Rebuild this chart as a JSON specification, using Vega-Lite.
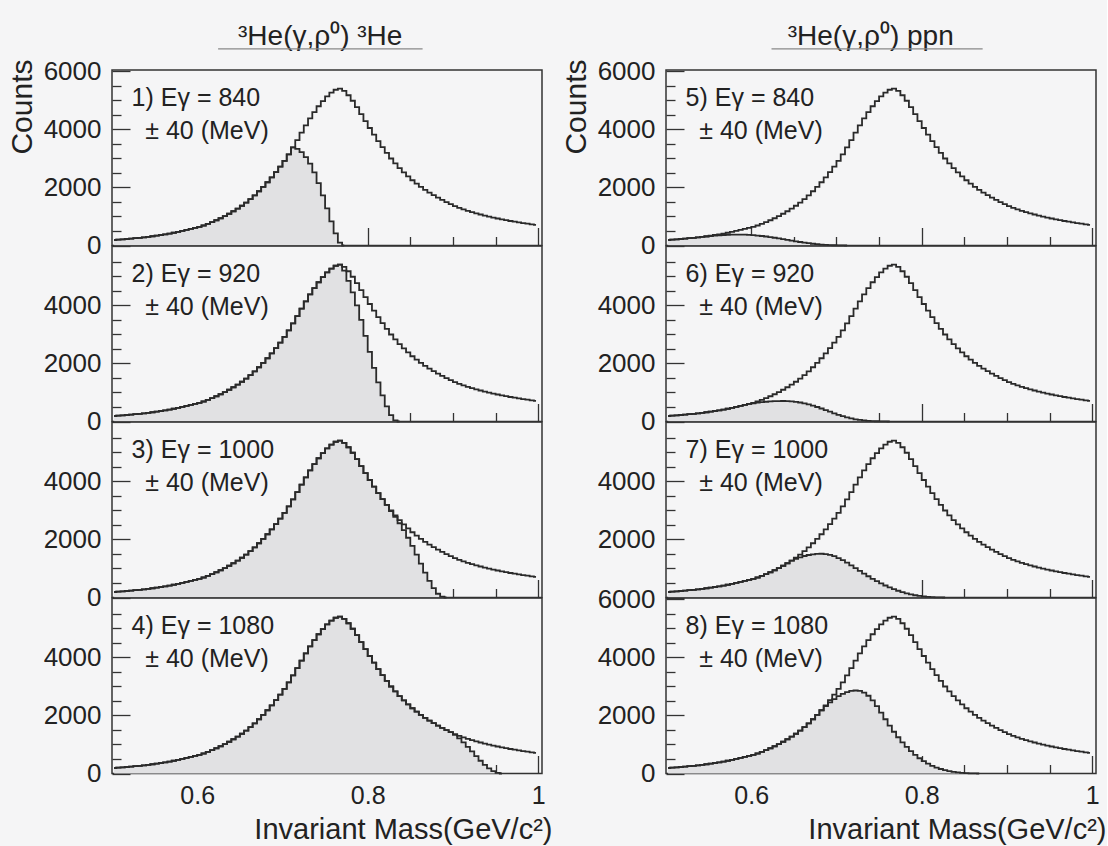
{
"$schema": "https://vega.github.io/schema/vega-lite/v6.json",
"background": "#f5f5f6",
"padding": {"left": 6, "top": 22, "right": 0, "bottom": 0},
"config": {
  "font": "Liberation Sans",
  "view": {"stroke": "#333333", "strokeWidth": 1.5},
  "axis": {"domain": false, "grid": false, "tickColor": "#333333", "tickWidth": 1.3, "labelFont": "Liberation Sans", "labelFontSize": 26, "labelColor": "#222222", "titleFont": "Liberation Sans", "titleFontSize": 30, "titleFontWeight": "normal", "titleColor": "#222222", "labelOverlap": false, "labelFlush": false}
},
"datasets": {
  "h": [
{"m":0.5025,"t":190,"s1":190,"s2":190,"s3":190,"s4":190,"s5":190,"s6":190,"s7":190,"s8":190},
{"m":0.5075,"t":200,"s1":200,"s2":200,"s3":200,"s4":200,"s5":200,"s6":200,"s7":200,"s8":200},
{"m":0.5125,"t":212,"s1":212,"s2":212,"s3":212,"s4":212,"s5":212,"s6":212,"s7":212,"s8":212},
{"m":0.5175,"t":224,"s1":224,"s2":224,"s3":224,"s4":224,"s5":224,"s6":224,"s7":224,"s8":224},
{"m":0.5225,"t":237,"s1":237,"s2":237,"s3":237,"s4":237,"s5":237,"s6":237,"s7":237,"s8":237},
{"m":0.5275,"t":251,"s1":251,"s2":251,"s3":251,"s4":251,"s5":251,"s6":251,"s7":251,"s8":251},
{"m":0.5325,"t":266,"s1":266,"s2":266,"s3":266,"s4":266,"s5":266,"s6":266,"s7":266,"s8":266},
{"m":0.5375,"t":282,"s1":282,"s2":282,"s3":282,"s4":282,"s5":280,"s6":282,"s7":282,"s8":282},
{"m":0.5425,"t":300,"s1":300,"s2":300,"s3":300,"s4":300,"s5":295,"s6":300,"s7":300,"s8":300},
{"m":0.5475,"t":319,"s1":319,"s2":319,"s3":319,"s4":319,"s5":310,"s6":319,"s7":319,"s8":319},
{"m":0.5525,"t":340,"s1":340,"s2":340,"s3":340,"s4":340,"s5":325,"s6":340,"s7":340,"s8":340},
{"m":0.5575,"t":362,"s1":362,"s2":362,"s3":362,"s4":362,"s5":340,"s6":362,"s7":362,"s8":362},
{"m":0.5625,"t":386,"s1":386,"s2":386,"s3":386,"s4":386,"s5":352,"s6":386,"s7":386,"s8":386},
{"m":0.5675,"t":412,"s1":412,"s2":412,"s3":412,"s4":412,"s5":362,"s6":412,"s7":412,"s8":412},
{"m":0.5725,"t":440,"s1":440,"s2":440,"s3":440,"s4":440,"s5":370,"s6":440,"s7":440,"s8":440},
{"m":0.5775,"t":470,"s1":470,"s2":470,"s3":470,"s4":470,"s5":375,"s6":470,"s7":470,"s8":470},
{"m":0.5825,"t":503,"s1":503,"s2":503,"s3":503,"s4":503,"s5":377,"s6":503,"s7":503,"s8":503},
{"m":0.5875,"t":539,"s1":539,"s2":539,"s3":539,"s4":539,"s5":376,"s6":539,"s7":539,"s8":539},
{"m":0.5925,"t":572,"s1":572,"s2":572,"s3":572,"s4":572,"s5":372,"s6":572,"s7":572,"s8":572},
{"m":0.5975,"t":605,"s1":605,"s2":605,"s3":605,"s4":605,"s5":365,"s6":605,"s7":605,"s8":605},
{"m":0.6025,"t":640,"s1":640,"s2":640,"s3":640,"s4":640,"s5":355,"s6":628,"s7":640,"s8":640},
{"m":0.6075,"t":690,"s1":690,"s2":690,"s3":690,"s4":690,"s5":342,"s6":648,"s7":690,"s8":690},
{"m":0.6125,"t":745,"s1":745,"s2":745,"s3":745,"s4":745,"s5":327,"s6":665,"s7":745,"s8":745},
{"m":0.6175,"t":805,"s1":805,"s2":805,"s3":805,"s4":805,"s5":310,"s6":680,"s7":805,"s8":805},
{"m":0.6225,"t":870,"s1":870,"s2":870,"s3":870,"s4":870,"s5":290,"s6":692,"s7":870,"s8":870},
{"m":0.6275,"t":940,"s1":940,"s2":940,"s3":940,"s4":940,"s5":268,"s6":700,"s7":940,"s8":940},
{"m":0.6325,"t":1015,"s1":1015,"s2":1015,"s3":1015,"s4":1015,"s5":245,"s6":705,"s7":1015,"s8":1015},
{"m":0.6375,"t":1095,"s1":1095,"s2":1095,"s3":1095,"s4":1095,"s5":220,"s6":707,"s7":1095,"s8":1095},
{"m":0.6425,"t":1180,"s1":1180,"s2":1180,"s3":1180,"s4":1180,"s5":195,"s6":705,"s7":1180,"s8":1180},
{"m":0.6475,"t":1270,"s1":1270,"s2":1270,"s3":1270,"s4":1270,"s5":170,"s6":695,"s7":1270,"s8":1270},
{"m":0.6525,"t":1370,"s1":1370,"s2":1370,"s3":1370,"s4":1370,"s5":145,"s6":678,"s7":1330,"s8":1370},
{"m":0.6575,"t":1480,"s1":1480,"s2":1480,"s3":1480,"s4":1480,"s5":121,"s6":655,"s7":1385,"s8":1480},
{"m":0.6625,"t":1600,"s1":1600,"s2":1600,"s3":1600,"s4":1600,"s5":99,"s6":625,"s7":1430,"s8":1600},
{"m":0.6675,"t":1730,"s1":1730,"s2":1730,"s3":1730,"s4":1730,"s5":79,"s6":590,"s7":1465,"s8":1730},
{"m":0.6725,"t":1870,"s1":1870,"s2":1870,"s3":1870,"s4":1870,"s5":61,"s6":548,"s7":1490,"s8":1870},
{"m":0.6775,"t":2020,"s1":2020,"s2":2020,"s3":2020,"s4":2020,"s5":46,"s6":500,"s7":1505,"s8":2020},
{"m":0.6825,"t":2180,"s1":2180,"s2":2180,"s3":2180,"s4":2180,"s5":33,"s6":448,"s7":1508,"s8":2180},
{"m":0.6875,"t":2350,"s1":2350,"s2":2350,"s3":2350,"s4":2350,"s5":23,"s6":393,"s7":1498,"s8":2320},
{"m":0.6925,"t":2530,"s1":2530,"s2":2530,"s3":2530,"s4":2530,"s5":15,"s6":337,"s7":1470,"s8":2450},
{"m":0.6975,"t":2720,"s1":2720,"s2":2720,"s3":2720,"s4":2720,"s5":9,"s6":282,"s7":1425,"s8":2565},
{"m":0.7025,"t":2920,"s1":2920,"s2":2920,"s3":2920,"s4":2920,"s5":5,"s6":230,"s7":1360,"s8":2665},
{"m":0.7075,"t":3140,"s1":3140,"s2":3140,"s3":3140,"s4":3140,"s5":2,"s6":183,"s7":1285,"s8":2745},
{"m":0.7125,"t":3380,"s1":3380,"s2":3380,"s3":3380,"s4":3380,"s5":0,"s6":141,"s7":1200,"s8":2805},
{"m":0.7175,"t":3630,"s1":3330,"s2":3630,"s3":3630,"s4":3630,"s6":105,"s7":1110,"s8":2845},
{"m":0.7225,"t":3890,"s1":3220,"s2":3890,"s3":3890,"s4":3890,"s6":76,"s7":1015,"s8":2862},
{"m":0.7275,"t":4140,"s1":3050,"s2":4140,"s3":4140,"s4":4140,"s6":53,"s7":920,"s8":2850},
{"m":0.7325,"t":4380,"s1":2820,"s2":4380,"s3":4380,"s4":4380,"s6":36,"s7":825,"s8":2790},
{"m":0.7375,"t":4600,"s1":2520,"s2":4600,"s3":4600,"s4":4600,"s6":23,"s7":733,"s8":2680},
{"m":0.7425,"t":4800,"s1":2150,"s2":4800,"s3":4800,"s4":4800,"s6":14,"s7":645,"s8":2520},
{"m":0.7475,"t":4980,"s1":1730,"s2":4980,"s3":4980,"s4":4980,"s6":8,"s7":562,"s8":2320},
{"m":0.7525,"t":5140,"s1":1280,"s2":5140,"s3":5140,"s4":5140,"s6":4,"s7":485,"s8":2100},
{"m":0.7575,"t":5270,"s1":830,"s2":5270,"s3":5270,"s4":5270,"s6":1,"s7":413,"s8":1870},
{"m":0.7625,"t":5370,"s1":420,"s2":5370,"s3":5370,"s4":5370,"s6":0,"s7":347,"s8":1650},
{"m":0.7675,"t":5410,"s1":100,"s2":5410,"s3":5410,"s4":5410,"s7":287,"s8":1440},
{"m":0.7725,"t":5330,"s1":0,"s2":5200,"s3":5330,"s4":5330,"s7":233,"s8":1250},
{"m":0.7775,"t":5180,"s2":4850,"s3":5180,"s4":5180,"s7":185,"s8":1075},
{"m":0.7825,"t":4990,"s2":4450,"s3":4990,"s4":4990,"s7":143,"s8":915},
{"m":0.7875,"t":4770,"s2":4000,"s3":4770,"s4":4770,"s7":107,"s8":770},
{"m":0.7925,"t":4530,"s2":3500,"s3":4530,"s4":4530,"s7":77,"s8":640},
{"m":0.7975,"t":4290,"s2":2950,"s3":4290,"s4":4290,"s7":53,"s8":525},
{"m":0.8025,"t":4050,"s2":2400,"s3":4050,"s4":4050,"s7":35,"s8":425},
{"m":0.8075,"t":3820,"s2":1850,"s3":3820,"s4":3820,"s7":21,"s8":340},
{"m":0.8125,"t":3600,"s2":1350,"s3":3600,"s4":3600,"s7":11,"s8":265},
{"m":0.8175,"t":3390,"s2":900,"s3":3390,"s4":3390,"s7":5,"s8":205},
{"m":0.8225,"t":3190,"s2":520,"s3":3190,"s4":3190,"s7":2,"s8":155},
{"m":0.8275,"t":3000,"s2":220,"s3":2980,"s4":3000,"s7":0,"s8":115},
{"m":0.8325,"t":2830,"s2":40,"s3":2780,"s4":2830,"s8":82},
{"m":0.8375,"t":2670,"s2":0,"s3":2560,"s4":2670,"s8":57},
{"m":0.8425,"t":2520,"s3":2320,"s4":2520,"s8":38},
{"m":0.8475,"t":2380,"s3":2060,"s4":2380,"s8":24},
{"m":0.8525,"t":2250,"s3":1780,"s4":2250,"s8":14},
{"m":0.8575,"t":2130,"s3":1480,"s4":2130,"s8":7},
{"m":0.8625,"t":2020,"s3":1170,"s4":2020,"s8":3},
{"m":0.8675,"t":1920,"s3":860,"s4":1920,"s8":0},
{"m":0.8725,"t":1825,"s3":570,"s4":1825},
{"m":0.8775,"t":1735,"s3":320,"s4":1735},
{"m":0.8825,"t":1650,"s3":130,"s4":1650},
{"m":0.8875,"t":1570,"s3":30,"s4":1570},
{"m":0.8925,"t":1495,"s3":0,"s4":1495},
{"m":0.8975,"t":1425,"s4":1425},
{"m":0.9025,"t":1360,"s4":1330},
{"m":0.9075,"t":1300,"s4":1210},
{"m":0.9125,"t":1245,"s4":1070},
{"m":0.9175,"t":1195,"s4":920},
{"m":0.9225,"t":1150,"s4":760},
{"m":0.9275,"t":1108,"s4":600},
{"m":0.9325,"t":1068,"s4":440},
{"m":0.9375,"t":1030,"s4":300},
{"m":0.9425,"t":995,"s4":180},
{"m":0.9475,"t":962,"s4":80},
{"m":0.9525,"t":930,"s4":20},
{"m":0.9575,"t":900,"s4":0},
{"m":0.9625,"t":872},
{"m":0.9675,"t":845},
{"m":0.9725,"t":820},
{"m":0.9775,"t":796},
{"m":0.9825,"t":773},
{"m":0.9875,"t":751},
{"m":0.9925,"t":730},
{"m":0.9975,"t":710}
  ]
},
"spacing": 7,
"hconcat": [
{"vconcat": [
{"width": 430, "height": 175.5, "resolve": {"axis": {"x": "independent", "y": "independent"}},
 "layer": [
  {"data": {"name": "h"}, "mark": {"type": "area", "interpolate": "step", "color": "#e1e1e3"},
   "encoding": {"x": {"field": "m", "type": "quantitative", "scale": {"domain": [0.5, 1.0045], "nice": false}, "axis": {"orient": "bottom", "values": [0.6, 0.8, 1], "tickSize": 18, "offset": -18, "labels": false, "title": null}},
                "y": {"field": "s1", "type": "quantitative", "scale": {"domain": [0, 6050], "nice": false}, "axis": {"orient": "left", "values": [0, 2000, 4000, 6000], "format": "d", "tickSize": 18, "offset": -18, "labelPadding": 11, "title": "Counts", "titleAnchor": "end", "titleAlign": "right", "titleY": -11, "titlePadding": 6}}}},
  {"data": {"name": "h"}, "mark": {"type": "line", "interpolate": "step", "color": "#2a2a2a", "strokeWidth": 1.8},
   "encoding": {"x": {"field": "m", "type": "quantitative", "scale": {"domain": [0.5, 1.0045], "nice": false}, "axis": null}, "y": {"field": "s1", "type": "quantitative", "scale": {"domain": [0, 6050], "nice": false}, "axis": null}}},
  {"data": {"name": "h"}, "mark": {"type": "line", "interpolate": "step", "color": "#2a2a2a", "strokeWidth": 1.8},
   "encoding": {"x": {"field": "m", "type": "quantitative", "scale": {"domain": [0.5, 1.0045], "nice": false}, "axis": {"orient": "bottom", "values": [0.55, 0.65, 0.7, 0.75, 0.85, 0.9, 0.95], "tickSize": 9, "offset": -9, "labels": false, "title": null}},
                "y": {"field": "t", "type": "quantitative", "scale": {"domain": [0, 6050], "nice": false}, "axis": {"orient": "left", "values": [500, 1000, 1500, 2500, 3000, 3500, 4500, 5000, 5500], "tickSize": 9, "offset": -9, "labels": false, "title": null}}}},
  {"data": {"values": [{"a": "1) Eγ = 840", "b": "± 40 (MeV)", "c": "³He(γ,ρ⁰) ³He"}]},
   "layer": [
    {"mark": {"type": "text", "align": "left", "baseline": "alphabetic", "fontSize": 25, "color": "#222222"},
     "encoding": {"x": {"datum": 0.523, "type": "quantitative", "scale": {"domain": [0.5, 1.0045], "nice": false}, "axis": null}, "y": {"datum": 4805, "type": "quantitative", "scale": {"domain": [0, 6050], "nice": false}, "axis": null}, "text": {"field": "a"}}},
    {"mark": {"type": "text", "align": "left", "baseline": "alphabetic", "fontSize": 25, "color": "#222222"},
     "encoding": {"x": {"datum": 0.539, "type": "quantitative", "scale": {"domain": [0.5, 1.0045], "nice": false}, "axis": null}, "y": {"datum": 3665, "type": "quantitative", "scale": {"domain": [0, 6050], "nice": false}, "axis": null}, "text": {"field": "b"}}},
    {"mark": {"type": "text", "align": "center", "baseline": "alphabetic", "fontSize": 28, "color": "#222222"},
     "encoding": {"x": {"datum": 0.7443, "type": "quantitative", "scale": {"domain": [0.5, 1.0045], "nice": false}, "axis": null}, "y": {"datum": 6914, "type": "quantitative", "scale": {"domain": [0, 6050], "nice": false}, "axis": null}, "text": {"field": "c"}}},
    {"mark": {"type": "rule", "color": "#888888", "strokeWidth": 1.2},
     "encoding": {"x": {"datum": 0.6245, "type": "quantitative", "scale": {"domain": [0.5, 1.0045], "nice": false}, "axis": null}, "x2": {"datum": 0.8644}, "y": {"datum": 6776, "type": "quantitative", "scale": {"domain": [0, 6050], "nice": false}, "axis": null}}}
   ]}
 ]},
{"width": 430, "height": 175.5, "resolve": {"axis": {"x": "independent", "y": "independent"}},
 "layer": [
  {"data": {"name": "h"}, "mark": {"type": "area", "interpolate": "step", "color": "#e1e1e3"},
   "encoding": {"x": {"field": "m", "type": "quantitative", "scale": {"domain": [0.5, 1.0045], "nice": false}, "axis": {"orient": "bottom", "values": [0.6, 0.8, 1], "tickSize": 18, "offset": -18, "labels": false, "title": null}},
                "y": {"field": "s2", "type": "quantitative", "scale": {"domain": [0, 6050], "nice": false}, "axis": {"orient": "left", "values": [0, 2000, 4000], "format": "d", "tickSize": 18, "offset": -18, "labelPadding": 11, "title": null}}}},
  {"data": {"name": "h"}, "mark": {"type": "line", "interpolate": "step", "color": "#2a2a2a", "strokeWidth": 1.8},
   "encoding": {"x": {"field": "m", "type": "quantitative", "scale": {"domain": [0.5, 1.0045], "nice": false}, "axis": null}, "y": {"field": "s2", "type": "quantitative", "scale": {"domain": [0, 6050], "nice": false}, "axis": null}}},
  {"data": {"name": "h"}, "mark": {"type": "line", "interpolate": "step", "color": "#2a2a2a", "strokeWidth": 1.8},
   "encoding": {"x": {"field": "m", "type": "quantitative", "scale": {"domain": [0.5, 1.0045], "nice": false}, "axis": {"orient": "bottom", "values": [0.55, 0.65, 0.7, 0.75, 0.85, 0.9, 0.95], "tickSize": 9, "offset": -9, "labels": false, "title": null}},
                "y": {"field": "t", "type": "quantitative", "scale": {"domain": [0, 6050], "nice": false}, "axis": {"orient": "left", "values": [500, 1000, 1500, 2500, 3000, 3500, 4500, 5000, 5500], "tickSize": 9, "offset": -9, "labels": false, "title": null}}}},
  {"data": {"values": [{"a": "2) Eγ = 920", "b": "± 40 (MeV)"}]},
   "layer": [
    {"mark": {"type": "text", "align": "left", "baseline": "alphabetic", "fontSize": 25, "color": "#222222"},
     "encoding": {"x": {"datum": 0.523, "type": "quantitative", "scale": {"domain": [0.5, 1.0045], "nice": false}, "axis": null}, "y": {"datum": 4805, "type": "quantitative", "scale": {"domain": [0, 6050], "nice": false}, "axis": null}, "text": {"field": "a"}}},
    {"mark": {"type": "text", "align": "left", "baseline": "alphabetic", "fontSize": 25, "color": "#222222"},
     "encoding": {"x": {"datum": 0.539, "type": "quantitative", "scale": {"domain": [0.5, 1.0045], "nice": false}, "axis": null}, "y": {"datum": 3665, "type": "quantitative", "scale": {"domain": [0, 6050], "nice": false}, "axis": null}, "text": {"field": "b"}}}
   ]}
 ]},
{"width": 430, "height": 175.5, "resolve": {"axis": {"x": "independent", "y": "independent"}},
 "layer": [
  {"data": {"name": "h"}, "mark": {"type": "area", "interpolate": "step", "color": "#e1e1e3"},
   "encoding": {"x": {"field": "m", "type": "quantitative", "scale": {"domain": [0.5, 1.0045], "nice": false}, "axis": {"orient": "bottom", "values": [0.6, 0.8, 1], "tickSize": 18, "offset": -18, "labels": false, "title": null}},
                "y": {"field": "s3", "type": "quantitative", "scale": {"domain": [0, 6050], "nice": false}, "axis": {"orient": "left", "values": [0, 2000, 4000], "format": "d", "tickSize": 18, "offset": -18, "labelPadding": 11, "title": null}}}},
  {"data": {"name": "h"}, "mark": {"type": "line", "interpolate": "step", "color": "#2a2a2a", "strokeWidth": 1.8},
   "encoding": {"x": {"field": "m", "type": "quantitative", "scale": {"domain": [0.5, 1.0045], "nice": false}, "axis": null}, "y": {"field": "s3", "type": "quantitative", "scale": {"domain": [0, 6050], "nice": false}, "axis": null}}},
  {"data": {"name": "h"}, "mark": {"type": "line", "interpolate": "step", "color": "#2a2a2a", "strokeWidth": 1.8},
   "encoding": {"x": {"field": "m", "type": "quantitative", "scale": {"domain": [0.5, 1.0045], "nice": false}, "axis": {"orient": "bottom", "values": [0.55, 0.65, 0.7, 0.75, 0.85, 0.9, 0.95], "tickSize": 9, "offset": -9, "labels": false, "title": null}},
                "y": {"field": "t", "type": "quantitative", "scale": {"domain": [0, 6050], "nice": false}, "axis": {"orient": "left", "values": [500, 1000, 1500, 2500, 3000, 3500, 4500, 5000, 5500], "tickSize": 9, "offset": -9, "labels": false, "title": null}}}},
  {"data": {"values": [{"a": "3) Eγ = 1000", "b": "± 40 (MeV)"}]},
   "layer": [
    {"mark": {"type": "text", "align": "left", "baseline": "alphabetic", "fontSize": 25, "color": "#222222"},
     "encoding": {"x": {"datum": 0.523, "type": "quantitative", "scale": {"domain": [0.5, 1.0045], "nice": false}, "axis": null}, "y": {"datum": 4805, "type": "quantitative", "scale": {"domain": [0, 6050], "nice": false}, "axis": null}, "text": {"field": "a"}}},
    {"mark": {"type": "text", "align": "left", "baseline": "alphabetic", "fontSize": 25, "color": "#222222"},
     "encoding": {"x": {"datum": 0.539, "type": "quantitative", "scale": {"domain": [0.5, 1.0045], "nice": false}, "axis": null}, "y": {"datum": 3665, "type": "quantitative", "scale": {"domain": [0, 6050], "nice": false}, "axis": null}, "text": {"field": "b"}}}
   ]}
 ]},
{"width": 430, "height": 175.5, "resolve": {"axis": {"x": "independent", "y": "independent"}},
 "layer": [
  {"data": {"name": "h"}, "mark": {"type": "area", "interpolate": "step", "color": "#e1e1e3"},
   "encoding": {"x": {"field": "m", "type": "quantitative", "scale": {"domain": [0.5, 1.0045], "nice": false}, "axis": {"orient": "bottom", "values": [0.6, 0.8, 1], "format": "~g", "tickSize": 18, "offset": -18, "labelPadding": 10, "labelFontSize": 25, "title": "Invariant Mass(GeV/c²)", "titleFontSize": 29, "titleX": 440, "titleY": 83, "titleAlign": "right", "titleAnchor": "end", "titleBaseline": "alphabetic"}},
                "y": {"field": "s4", "type": "quantitative", "scale": {"domain": [0, 6050], "nice": false}, "axis": {"orient": "left", "values": [0, 2000, 4000], "format": "d", "tickSize": 18, "offset": -18, "labelPadding": 11, "title": null}}}},
  {"data": {"name": "h"}, "mark": {"type": "line", "interpolate": "step", "color": "#2a2a2a", "strokeWidth": 1.8},
   "encoding": {"x": {"field": "m", "type": "quantitative", "scale": {"domain": [0.5, 1.0045], "nice": false}, "axis": null}, "y": {"field": "s4", "type": "quantitative", "scale": {"domain": [0, 6050], "nice": false}, "axis": null}}},
  {"data": {"name": "h"}, "mark": {"type": "line", "interpolate": "step", "color": "#2a2a2a", "strokeWidth": 1.8},
   "encoding": {"x": {"field": "m", "type": "quantitative", "scale": {"domain": [0.5, 1.0045], "nice": false}, "axis": {"orient": "bottom", "values": [0.55, 0.65, 0.7, 0.75, 0.85, 0.9, 0.95], "tickSize": 9, "offset": -9, "labels": false, "title": null}},
                "y": {"field": "t", "type": "quantitative", "scale": {"domain": [0, 6050], "nice": false}, "axis": {"orient": "left", "values": [500, 1000, 1500, 2500, 3000, 3500, 4500, 5000, 5500], "tickSize": 9, "offset": -9, "labels": false, "title": null}}}},
  {"data": {"values": [{"a": "4) Eγ = 1080", "b": "± 40 (MeV)"}]},
   "layer": [
    {"mark": {"type": "text", "align": "left", "baseline": "alphabetic", "fontSize": 25, "color": "#222222"},
     "encoding": {"x": {"datum": 0.523, "type": "quantitative", "scale": {"domain": [0.5, 1.0045], "nice": false}, "axis": null}, "y": {"datum": 4805, "type": "quantitative", "scale": {"domain": [0, 6050], "nice": false}, "axis": null}, "text": {"field": "a"}}},
    {"mark": {"type": "text", "align": "left", "baseline": "alphabetic", "fontSize": 25, "color": "#222222"},
     "encoding": {"x": {"datum": 0.539, "type": "quantitative", "scale": {"domain": [0.5, 1.0045], "nice": false}, "axis": null}, "y": {"datum": 3665, "type": "quantitative", "scale": {"domain": [0, 6050], "nice": false}, "axis": null}, "text": {"field": "b"}}}
   ]}
 ]}
], "spacing": 0, "bounds": "flush"},
{"vconcat": [
{"width": 430, "height": 175.5, "resolve": {"axis": {"x": "independent", "y": "independent"}},
 "layer": [
  {"data": {"name": "h"}, "mark": {"type": "area", "interpolate": "step", "color": "#e1e1e3"},
   "encoding": {"x": {"field": "m", "type": "quantitative", "scale": {"domain": [0.5, 1.0045], "nice": false}, "axis": {"orient": "bottom", "values": [0.6, 0.8, 1], "tickSize": 18, "offset": -18, "labels": false, "title": null}},
                "y": {"field": "s5", "type": "quantitative", "scale": {"domain": [0, 6050], "nice": false}, "axis": {"orient": "left", "values": [0, 2000, 4000, 6000], "format": "d", "tickSize": 18, "offset": -18, "labelPadding": 11, "title": "Counts", "titleAnchor": "end", "titleAlign": "right", "titleY": -11, "titlePadding": 6}}}},
  {"data": {"name": "h"}, "mark": {"type": "line", "interpolate": "step", "color": "#2a2a2a", "strokeWidth": 1.8},
   "encoding": {"x": {"field": "m", "type": "quantitative", "scale": {"domain": [0.5, 1.0045], "nice": false}, "axis": null}, "y": {"field": "s5", "type": "quantitative", "scale": {"domain": [0, 6050], "nice": false}, "axis": null}}},
  {"data": {"name": "h"}, "mark": {"type": "line", "interpolate": "step", "color": "#2a2a2a", "strokeWidth": 1.8},
   "encoding": {"x": {"field": "m", "type": "quantitative", "scale": {"domain": [0.5, 1.0045], "nice": false}, "axis": {"orient": "bottom", "values": [0.55, 0.65, 0.7, 0.75, 0.85, 0.9, 0.95], "tickSize": 9, "offset": -9, "labels": false, "title": null}},
                "y": {"field": "t", "type": "quantitative", "scale": {"domain": [0, 6050], "nice": false}, "axis": {"orient": "left", "values": [500, 1000, 1500, 2500, 3000, 3500, 4500, 5000, 5500], "tickSize": 9, "offset": -9, "labels": false, "title": null}}}},
  {"data": {"values": [{"a": "5) Eγ = 840", "b": "± 40 (MeV)", "c": "³He(γ,ρ⁰) ppn"}]},
   "layer": [
    {"mark": {"type": "text", "align": "left", "baseline": "alphabetic", "fontSize": 25, "color": "#222222"},
     "encoding": {"x": {"datum": 0.523, "type": "quantitative", "scale": {"domain": [0.5, 1.0045], "nice": false}, "axis": null}, "y": {"datum": 4805, "type": "quantitative", "scale": {"domain": [0, 6050], "nice": false}, "axis": null}, "text": {"field": "a"}}},
    {"mark": {"type": "text", "align": "left", "baseline": "alphabetic", "fontSize": 25, "color": "#222222"},
     "encoding": {"x": {"datum": 0.539, "type": "quantitative", "scale": {"domain": [0.5, 1.0045], "nice": false}, "axis": null}, "y": {"datum": 3665, "type": "quantitative", "scale": {"domain": [0, 6050], "nice": false}, "axis": null}, "text": {"field": "b"}}},
    {"mark": {"type": "text", "align": "center", "baseline": "alphabetic", "fontSize": 28, "color": "#222222"},
     "encoding": {"x": {"datum": 0.7402, "type": "quantitative", "scale": {"domain": [0.5, 1.0045], "nice": false}, "axis": null}, "y": {"datum": 6914, "type": "quantitative", "scale": {"domain": [0, 6050], "nice": false}, "axis": null}, "text": {"field": "c"}}},
    {"mark": {"type": "rule", "color": "#888888", "strokeWidth": 1.2},
     "encoding": {"x": {"datum": 0.6238, "type": "quantitative", "scale": {"domain": [0.5, 1.0045], "nice": false}, "axis": null}, "x2": {"datum": 0.8715}, "y": {"datum": 6776, "type": "quantitative", "scale": {"domain": [0, 6050], "nice": false}, "axis": null}}}
   ]}
 ]},
{"width": 430, "height": 175.5, "resolve": {"axis": {"x": "independent", "y": "independent"}},
 "layer": [
  {"data": {"name": "h"}, "mark": {"type": "area", "interpolate": "step", "color": "#e1e1e3"},
   "encoding": {"x": {"field": "m", "type": "quantitative", "scale": {"domain": [0.5, 1.0045], "nice": false}, "axis": {"orient": "bottom", "values": [0.6, 0.8, 1], "tickSize": 18, "offset": -18, "labels": false, "title": null}},
                "y": {"field": "s6", "type": "quantitative", "scale": {"domain": [0, 6050], "nice": false}, "axis": {"orient": "left", "values": [0, 2000, 4000], "format": "d", "tickSize": 18, "offset": -18, "labelPadding": 11, "title": null}}}},
  {"data": {"name": "h"}, "mark": {"type": "line", "interpolate": "step", "color": "#2a2a2a", "strokeWidth": 1.8},
   "encoding": {"x": {"field": "m", "type": "quantitative", "scale": {"domain": [0.5, 1.0045], "nice": false}, "axis": null}, "y": {"field": "s6", "type": "quantitative", "scale": {"domain": [0, 6050], "nice": false}, "axis": null}}},
  {"data": {"name": "h"}, "mark": {"type": "line", "interpolate": "step", "color": "#2a2a2a", "strokeWidth": 1.8},
   "encoding": {"x": {"field": "m", "type": "quantitative", "scale": {"domain": [0.5, 1.0045], "nice": false}, "axis": {"orient": "bottom", "values": [0.55, 0.65, 0.7, 0.75, 0.85, 0.9, 0.95], "tickSize": 9, "offset": -9, "labels": false, "title": null}},
                "y": {"field": "t", "type": "quantitative", "scale": {"domain": [0, 6050], "nice": false}, "axis": {"orient": "left", "values": [500, 1000, 1500, 2500, 3000, 3500, 4500, 5000, 5500], "tickSize": 9, "offset": -9, "labels": false, "title": null}}}},
  {"data": {"values": [{"a": "6) Eγ = 920", "b": "± 40 (MeV)"}]},
   "layer": [
    {"mark": {"type": "text", "align": "left", "baseline": "alphabetic", "fontSize": 25, "color": "#222222"},
     "encoding": {"x": {"datum": 0.523, "type": "quantitative", "scale": {"domain": [0.5, 1.0045], "nice": false}, "axis": null}, "y": {"datum": 4805, "type": "quantitative", "scale": {"domain": [0, 6050], "nice": false}, "axis": null}, "text": {"field": "a"}}},
    {"mark": {"type": "text", "align": "left", "baseline": "alphabetic", "fontSize": 25, "color": "#222222"},
     "encoding": {"x": {"datum": 0.539, "type": "quantitative", "scale": {"domain": [0.5, 1.0045], "nice": false}, "axis": null}, "y": {"datum": 3665, "type": "quantitative", "scale": {"domain": [0, 6050], "nice": false}, "axis": null}, "text": {"field": "b"}}}
   ]}
 ]},
{"width": 430, "height": 175.5, "resolve": {"axis": {"x": "independent", "y": "independent"}},
 "layer": [
  {"data": {"name": "h"}, "mark": {"type": "area", "interpolate": "step", "color": "#e1e1e3"},
   "encoding": {"x": {"field": "m", "type": "quantitative", "scale": {"domain": [0.5, 1.0045], "nice": false}, "axis": {"orient": "bottom", "values": [0.6, 0.8, 1], "tickSize": 18, "offset": -18, "labels": false, "title": null}},
                "y": {"field": "s7", "type": "quantitative", "scale": {"domain": [0, 6050], "nice": false}, "axis": {"orient": "left", "values": [0, 2000, 4000], "format": "d", "labelExpr": "datum.value>0?datum.label:''", "tickSize": 18, "offset": -18, "labelPadding": 11, "title": null}}}},
  {"data": {"name": "h"}, "mark": {"type": "line", "interpolate": "step", "color": "#2a2a2a", "strokeWidth": 1.8},
   "encoding": {"x": {"field": "m", "type": "quantitative", "scale": {"domain": [0.5, 1.0045], "nice": false}, "axis": null}, "y": {"field": "s7", "type": "quantitative", "scale": {"domain": [0, 6050], "nice": false}, "axis": null}}},
  {"data": {"name": "h"}, "mark": {"type": "line", "interpolate": "step", "color": "#2a2a2a", "strokeWidth": 1.8},
   "encoding": {"x": {"field": "m", "type": "quantitative", "scale": {"domain": [0.5, 1.0045], "nice": false}, "axis": {"orient": "bottom", "values": [0.55, 0.65, 0.7, 0.75, 0.85, 0.9, 0.95], "tickSize": 9, "offset": -9, "labels": false, "title": null}},
                "y": {"field": "t", "type": "quantitative", "scale": {"domain": [0, 6050], "nice": false}, "axis": {"orient": "left", "values": [500, 1000, 1500, 2500, 3000, 3500, 4500, 5000, 5500], "tickSize": 9, "offset": -9, "labels": false, "title": null}}}},
  {"data": {"values": [{"a": "7) Eγ = 1000", "b": "± 40 (MeV)"}]},
   "layer": [
    {"mark": {"type": "text", "align": "left", "baseline": "alphabetic", "fontSize": 25, "color": "#222222"},
     "encoding": {"x": {"datum": 0.523, "type": "quantitative", "scale": {"domain": [0.5, 1.0045], "nice": false}, "axis": null}, "y": {"datum": 4805, "type": "quantitative", "scale": {"domain": [0, 6050], "nice": false}, "axis": null}, "text": {"field": "a"}}},
    {"mark": {"type": "text", "align": "left", "baseline": "alphabetic", "fontSize": 25, "color": "#222222"},
     "encoding": {"x": {"datum": 0.539, "type": "quantitative", "scale": {"domain": [0.5, 1.0045], "nice": false}, "axis": null}, "y": {"datum": 3665, "type": "quantitative", "scale": {"domain": [0, 6050], "nice": false}, "axis": null}, "text": {"field": "b"}}}
   ]}
 ]},
{"width": 430, "height": 175.5, "resolve": {"axis": {"x": "independent", "y": "independent"}},
 "layer": [
  {"data": {"name": "h"}, "mark": {"type": "area", "interpolate": "step", "color": "#e1e1e3"},
   "encoding": {"x": {"field": "m", "type": "quantitative", "scale": {"domain": [0.5, 1.0045], "nice": false}, "axis": {"orient": "bottom", "values": [0.6, 0.8, 1], "format": "~g", "tickSize": 18, "offset": -18, "labelPadding": 10, "labelFontSize": 25, "title": "Invariant Mass(GeV/c²)", "titleFontSize": 29, "titleX": 440, "titleY": 83, "titleAlign": "right", "titleAnchor": "end", "titleBaseline": "alphabetic"}},
                "y": {"field": "s8", "type": "quantitative", "scale": {"domain": [0, 6050], "nice": false}, "axis": {"orient": "left", "values": [0, 2000, 4000, 6000], "format": "d", "tickSize": 18, "offset": -18, "labelPadding": 11, "title": null}}}},
  {"data": {"name": "h"}, "mark": {"type": "line", "interpolate": "step", "color": "#2a2a2a", "strokeWidth": 1.8},
   "encoding": {"x": {"field": "m", "type": "quantitative", "scale": {"domain": [0.5, 1.0045], "nice": false}, "axis": null}, "y": {"field": "s8", "type": "quantitative", "scale": {"domain": [0, 6050], "nice": false}, "axis": null}}},
  {"data": {"name": "h"}, "mark": {"type": "line", "interpolate": "step", "color": "#2a2a2a", "strokeWidth": 1.8},
   "encoding": {"x": {"field": "m", "type": "quantitative", "scale": {"domain": [0.5, 1.0045], "nice": false}, "axis": {"orient": "bottom", "values": [0.55, 0.65, 0.7, 0.75, 0.85, 0.9, 0.95], "tickSize": 9, "offset": -9, "labels": false, "title": null}},
                "y": {"field": "t", "type": "quantitative", "scale": {"domain": [0, 6050], "nice": false}, "axis": {"orient": "left", "values": [500, 1000, 1500, 2500, 3000, 3500, 4500, 5000, 5500], "tickSize": 9, "offset": -9, "labels": false, "title": null}}}},
  {"data": {"values": [{"a": "8) Eγ = 1080", "b": "± 40 (MeV)"}]},
   "layer": [
    {"mark": {"type": "text", "align": "left", "baseline": "alphabetic", "fontSize": 25, "color": "#222222"},
     "encoding": {"x": {"datum": 0.523, "type": "quantitative", "scale": {"domain": [0.5, 1.0045], "nice": false}, "axis": null}, "y": {"datum": 4805, "type": "quantitative", "scale": {"domain": [0, 6050], "nice": false}, "axis": null}, "text": {"field": "a"}}},
    {"mark": {"type": "text", "align": "left", "baseline": "alphabetic", "fontSize": 25, "color": "#222222"},
     "encoding": {"x": {"datum": 0.539, "type": "quantitative", "scale": {"domain": [0.5, 1.0045], "nice": false}, "axis": null}, "y": {"datum": 3665, "type": "quantitative", "scale": {"domain": [0, 6050], "nice": false}, "axis": null}, "text": {"field": "b"}}}
   ]}
 ]}
], "spacing": 0, "bounds": "flush"}
]
}
